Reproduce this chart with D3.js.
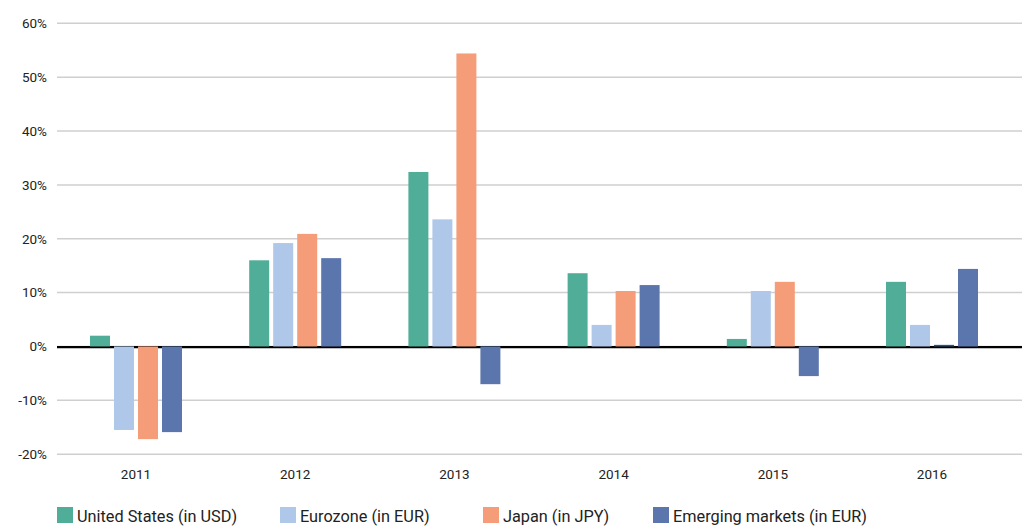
<!DOCTYPE html>
<html><head><meta charset="utf-8">
<script src="https://cdn.jsdelivr.net/npm/d3@7"></script>
<style>
html,body{margin:0;padding:0;background:#fff;}
svg{display:block;font-family:Roboto, "Liberation Sans", sans-serif;}
</style></head>
<body>
<svg id="chart" width="1022" height="526"></svg>
<script>
const years = ["2011","2012","2013","2014","2015","2016"];
const seriesNames = ["United States (in USD)","Eurozone (in EUR)","Japan (in JPY)","Emerging markets (in EUR)"];
const usValues = [2.0, 16.0, 32.4, 13.6, 1.4, 12.0];
const euroValues = [-15.5, 19.2, 23.6, 4.0, 10.3, 4.0];
const japanValues = [-17.2, 20.9, 54.4, 10.3, 12.0, 0.3];
const emValues = [-15.9, 16.4, -7.0, 11.4, -5.5, 14.4];
const yTicks = [-20, -10, 0, 10, 20, 30, 40, 50, 60];

const colors = ["#50ae98", "#afc8ea", "#f49d78", "#5b76ad"];
const specialFill = {series: 2, year: "2016", color: "#24557f"};

const seriesValues = [usValues, euroValues, japanValues, emValues];
const svg = d3.select("#chart");
const left = 57, right = 1022;
const x0 = d3.scaleBand().domain(years).range([56.4, 1011.6]).paddingInner(0).paddingOuter(0);
const x1 = d3.scaleBand().domain(d3.range(seriesNames.length)).range([0, 92]).paddingInner(4/24).paddingOuter(0);
const y = d3.scaleLinear().domain([-20, 60]).range([454.2, 23.3]);

// gridlines
svg.append("g").selectAll("line").data(yTicks).join("line")
  .attr("x1", left).attr("x2", right)
  .attr("y1", d => y(d)).attr("y2", d => y(d))
  .attr("stroke", "#cfcfcf").attr("stroke-width", 1.5);

// y labels
const yAxis = d3.axisLeft(y).tickValues(yTicks).tickSize(0).tickFormat(d => d + "%");
const ya = svg.append("g").attr("transform", `translate(47,0)`).call(yAxis);
ya.select(".domain").remove();
ya.selectAll("text").attr("font-size", 13.5).attr("fill", "#222").attr("font-family", "Roboto, sans-serif").attr("x", 0);

// zero line
svg.append("line").attr("x1", left).attr("x2", right)
  .attr("y1", y(0) + 0.6).attr("y2", y(0) + 0.6)
  .attr("stroke", "#000").attr("stroke-width", 2.4);

// bars
const groups = svg.append("g").selectAll("g").data(years).join("g")
  .attr("transform", d => `translate(${x0(d) + (x0.bandwidth() - 92) / 2},0)`);
groups.selectAll("rect").data((yr, i) => seriesValues.map((vals, s) => ({s, yr, v: vals[i]}))).join("rect")
  .attr("x", d => x1(d.s))
  .attr("width", x1.bandwidth())
  .attr("y", d => y(Math.max(0, d.v)))
  .attr("height", d => Math.abs(y(d.v) - y(0)))
  .attr("fill", d => (d.s === specialFill.series && d.yr === specialFill.year) ? specialFill.color : colors[d.s]);

// x labels
const xAxis = d3.axisBottom(x0).tickSize(0);
const xa = svg.append("g").attr("transform", `translate(0,466)`).call(xAxis);
xa.select(".domain").remove();
xa.selectAll("text").attr("font-size", 13.5).attr("fill", "#222").attr("font-family", "Roboto, sans-serif").attr("dy", "0.71em");

// legend
const legendX = [57, 280, 483, 653];
const lg = svg.append("g").selectAll("g").data(seriesNames).join("g")
  .attr("transform", (d, i) => `translate(${legendX[i]},507)`);
lg.append("rect").attr("width", 16).attr("height", 16).attr("fill", (d, i) => colors[i]);
lg.append("text").attr("x", 20).attr("y", 15).attr("font-size", 16.3).attr("fill", "#222").text(d => d);
</script>
</body></html>
